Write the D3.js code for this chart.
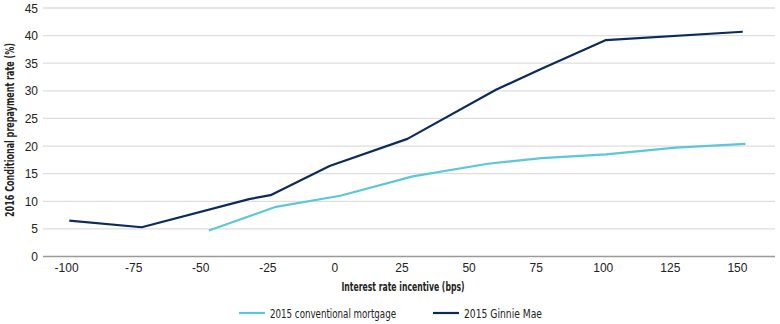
<!DOCTYPE html>
<html>
<head>
<meta charset="utf-8">
<script src="https://cdn.jsdelivr.net/npm/d3@7"></script>
<style>
  body { margin: 0; background: #fff; }
  svg { display: block; }
  .tick-label { font-family: "Liberation Sans", Arial, sans-serif; font-size: 12px; fill: #222; }
  .narrow { font-family: "Liberation Sans Narrow", "DejaVu Sans Condensed", "Arial Narrow", sans-serif; font-size: 12px; fill: #222; }
</style>
</head>
<body>
<svg id="chart"></svg>
<script>
  // ---- Data ----
  const conventionalX = [-47, -22, 2, 29, 57, 77, 101, 127, 153];
  const conventionalY = [4.7, 9.0, 11.0, 14.5, 16.8, 17.8, 18.5, 19.7, 20.4];

  const ginnieX = [-99, -72, -32, -24, -2, 27, 60, 77, 101, 152];
  const ginnieY = [6.5, 5.3, 10.4, 11.1, 16.4, 21.3, 30.2, 34.0, 39.2, 40.7];

  const xTicks = [-100, -75, -50, -25, 0, 25, 50, 75, 100, 125, 150];
  const yTicks = [0, 5, 10, 15, 20, 25, 30, 35, 40, 45];

  const seriesNames = ["2015 conventional mortgage", "2015 Ginnie Mae"];
  const seriesColors = ["#5cc6da", "#0b2b5c"];

  // ---- Layout ----
  const W = 780, H = 324;
  const plot = { left: 43, right: 775, top: 8, bottom: 256.5 };

  const svg = d3.select("#chart").attr("width", W).attr("height", H);

  const x = d3.scaleLinear().domain([-108.8, 164]).range([plot.left, plot.right]);
  const y = d3.scaleLinear().domain([0, 45]).range([plot.bottom, plot.top]);

  // gridlines
  svg.append("g")
    .selectAll("line")
    .data(yTicks.filter((d) => d > 0))
    .join("line")
    .attr("x1", plot.left)
    .attr("x2", plot.right)
    .attr("y1", (d) => y(d))
    .attr("y2", (d) => y(d))
    .attr("stroke", "#dedede")
    .attr("stroke-width", 1.3);

  // y tick labels
  svg.append("g")
    .selectAll("text")
    .data(yTicks)
    .join("text")
    .attr("class", "tick-label")
    .attr("x", 38)
    .attr("y", (d) => y(d) + 4.5)
    .attr("text-anchor", "end")
    .text((d) => d);

  // x axis line
  svg.append("line")
    .attr("x1", plot.left)
    .attr("x2", plot.right)
    .attr("y1", plot.bottom)
    .attr("y2", plot.bottom)
    .attr("stroke", "#9a9a9a")
    .attr("stroke-width", 1.5);

  // x tick labels
  svg.append("g")
    .selectAll("text")
    .data(xTicks)
    .join("text")
    .attr("class", "tick-label")
    .attr("x", (d) => x(d))
    .attr("y", 272)
    .attr("text-anchor", "middle")
    .text((d) => String(d));

  // axis titles (squeezed to the reference width: no narrow font installed)
  svg.append("text")
    .attr("class", "narrow")
    .attr("font-weight", "bold")
    .attr("transform", "translate(13.5,130) rotate(-90)")
    .attr("text-anchor", "middle")
    .attr("textLength", 174)
    .attr("lengthAdjust", "spacingAndGlyphs")
    .text("2016 Conditional prepayment rate (%)");

  svg.append("text")
    .attr("class", "narrow")
    .attr("font-weight", "bold")
    .attr("x", 403)
    .attr("y", 291)
    .attr("text-anchor", "middle")
    .attr("textLength", 123)
    .attr("lengthAdjust", "spacingAndGlyphs")
    .text("Interest rate incentive (bps)");

  // lines
  const line = d3.line().x((d) => x(d[0])).y((d) => y(d[1]));
  const series = [
    d3.zip(conventionalX, conventionalY),
    d3.zip(ginnieX, ginnieY),
  ];

  svg.append("g")
    .selectAll("path")
    .data(series)
    .join("path")
    .attr("d", line)
    .attr("fill", "none")
    .attr("stroke", (d, i) => seriesColors[i])
    .attr("stroke-width", 2.2)
    .attr("stroke-linejoin", "round");

  // legend
  const legendX = [239, 433];
  const legendTextLen = [126, 78];
  const legend = svg.append("g")
    .selectAll("g")
    .data(seriesNames)
    .join("g")
    .attr("transform", (d, i) => `translate(${legendX[i]},313)`);

  legend.append("line")
    .attr("x1", 0)
    .attr("x2", 26)
    .attr("stroke", (d, i) => seriesColors[i])
    .attr("stroke-width", 2.2);

  legend.append("text")
    .attr("class", "narrow")
    .attr("x", 31)
    .attr("y", 4.5)
    .attr("textLength", (d, i) => legendTextLen[i])
    .attr("lengthAdjust", "spacingAndGlyphs")
    .text((d) => d);
</script>
</body>
</html>
